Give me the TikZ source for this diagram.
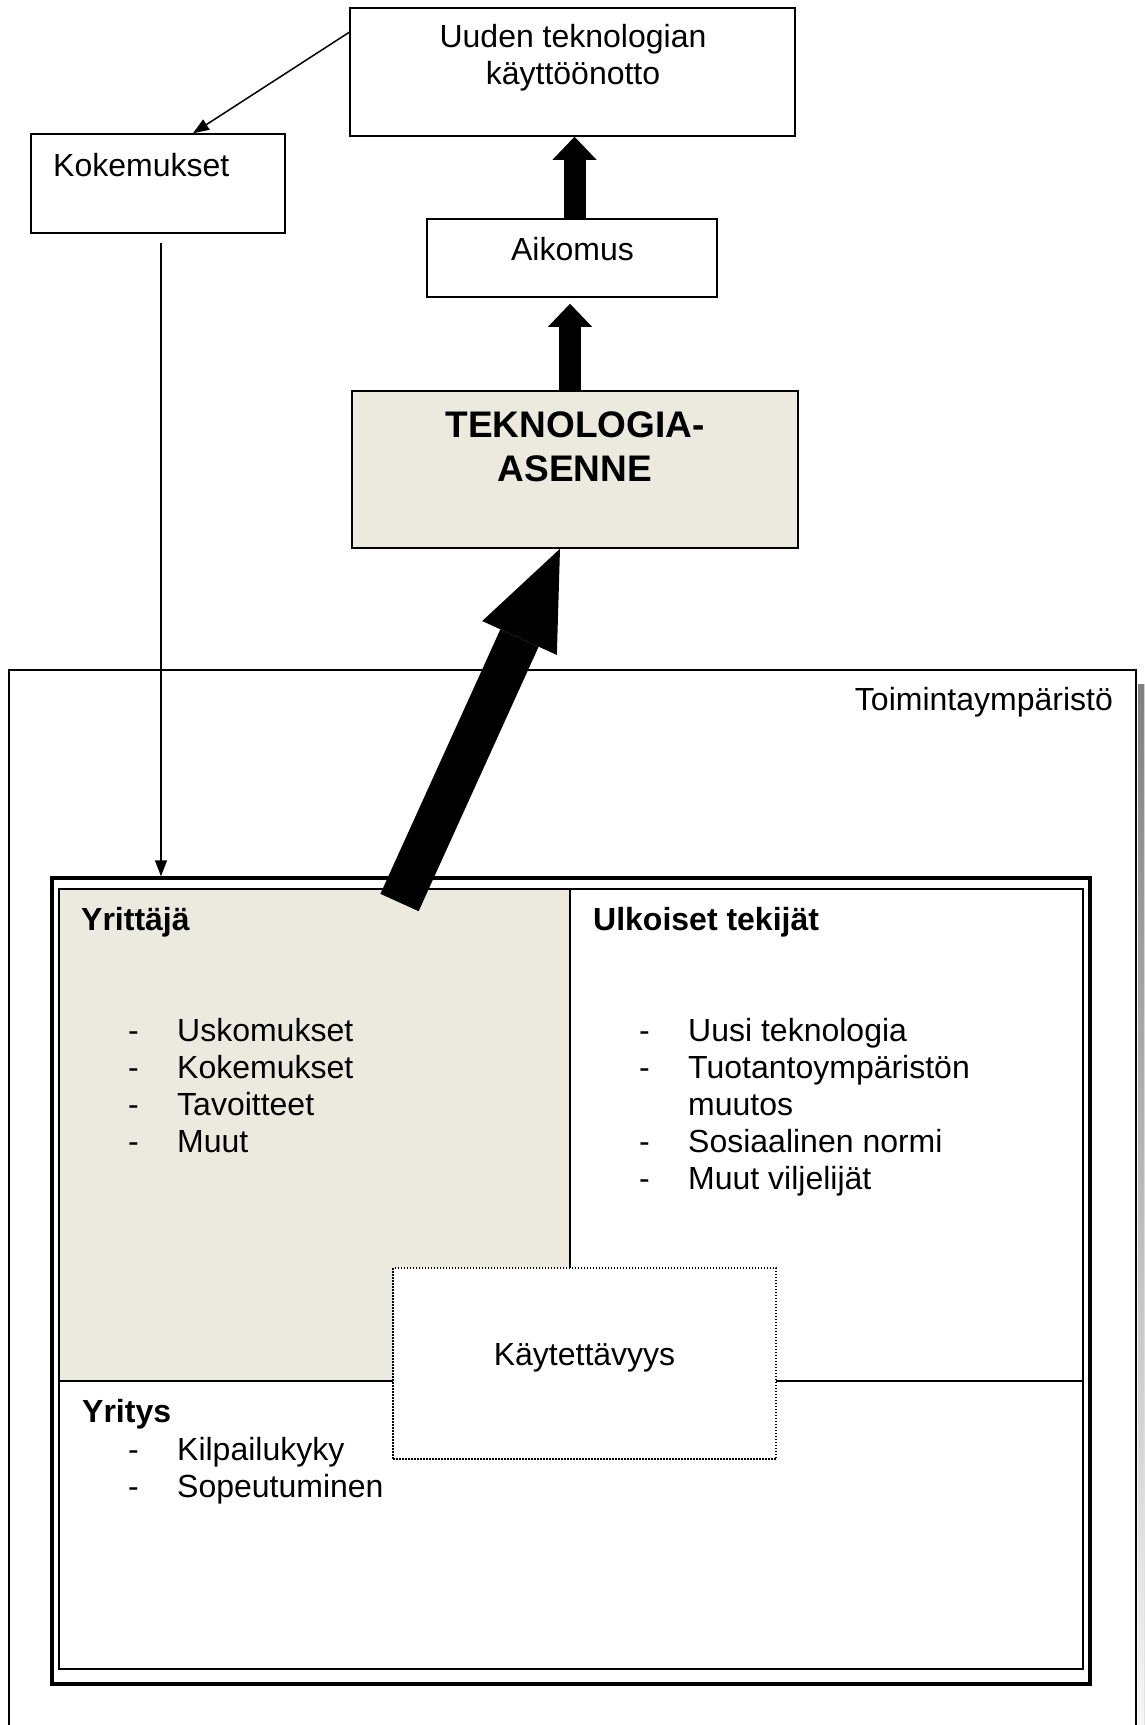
\documentclass[tikz,border=0pt]{standalone}
\usepackage{fontspec}
\setmainfont{Liberation Sans}
\usetikzlibrary{arrows.meta}
\definecolor{paper}{RGB}{236,233,223}
\definecolor{shade}{RGB}{192,192,192}
\tikzset{
  every picture/.style={line join=miter},
  box/.style={draw, line width=1.5pt, fill=white, inner sep=0pt},
  txt/.style={inner sep=0pt, font=\fontsize{32}{37}\selectfont},
  head/.style={inner sep=0pt, font=\fontsize{32}{37}\selectfont\bfseries},
  blockarrow/.style={line width=22pt, -{Triangle[length=23pt, width=44pt, line width=0pt]}},
  bigarrow/.style={line width=42pt, -{Triangle[length=98pt, width=82pt, line width=0pt]}},
  thinarrow/.style={line width=1.5pt, -{Triangle[length=16pt, width=12pt]}},
}
\newcommand\dashlist[1]{\begin{tabular}[t]{@{}p{49pt}@{}l@{}}#1\end{tabular}}

\begin{document}
\begin{tikzpicture}[x=1pt,y=-1pt]
\useasboundingbox (0,0) rectangle (1144,1725);
\clip (0,0) rectangle (1144,1725);
% toimintaympäristö
\fill[shade] (1138,684) rectangle (1170,1800);
\draw[line width=1.5pt, fill=white] (9,670) rectangle (1136,1800);
\node[txt, anchor=base east] (env) at (1113,710) {Toimintaympäristö};
% inner double frame
\node[draw, line width=3.5pt, inner sep=0pt, minimum width=1038pt, minimum height=806pt] (frame) at (571,1281) {};
\fill[paper] (59,889) rectangle (570,1381);
\node[draw, line width=1.5pt, inner sep=0pt, minimum width=1024pt, minimum height=780pt] (inner) at (571,1279) {};
\draw[line width=1.5pt] (570,889) -- (570,1381)
  (59,1381) -- (1083,1381);
\node[box, dash pattern=on 1.5pt off 1.5pt, minimum width=383pt, minimum height=191pt] (use) at (584.5,1363.5) {};
\node[txt, anchor=base] at (584.5,1365) {Käytettävyys};
% panels
\node[head, anchor=base west] (yrittaja) at (81,930) {Yrittäjä};
\node[txt, anchor=base west] at (128,1041) {\dashlist{- & Uskomukset\\ - & Kokemukset\\ - & Tavoitteet\\ - & Muut}};
\node[head, anchor=base west] (ulkoiset) at (593,930) {Ulkoiset tekijät};
\node[txt, anchor=base west] at (639,1041) {\dashlist{- & Uusi teknologia\\ - & Tuotantoympäristön\\ & muutos\\ - & Sosiaalinen normi\\ - & Muut viljelijät}};
\node[head, anchor=base west] (yritys) at (82,1422) {Yritys};
\node[txt, anchor=base west] at (128,1460) {\dashlist{- & Kilpailukyky\\ - & Sopeutuminen}};
% upper boxes
\node[box, minimum width=445pt, minimum height=128pt] (adopt) at (572.5,72) {};
\node[txt, anchor=base] at (573,47) {\begin{tabular}[t]{@{}c@{}}Uuden teknologian\\käyttöönotto\end{tabular}};
\node[box, minimum width=254pt, minimum height=99pt] (koke) at (158,183.5) {};
\node[txt, anchor=base west] at (53,176) {Kokemukset};
\node[box, minimum width=290pt, minimum height=78pt] (aikomus) at (572,258) {};
\node[txt, anchor=base] at (572.5,260) {Aikomus};
\node[box, fill=paper, minimum width=446pt, minimum height=157pt] (asenne) at (575,469.5) {};
\node[anchor=base, inner sep=0pt, font=\fontsize{37}{44}\selectfont\bfseries] at (575,437) {\begin{tabular}[t]{@{}c@{}}TEKNOLOGIA-\\ASENNE\end{tabular}};
% connectors
\draw[blockarrow] ([xshift=2.5pt]aikomus.north) -- ([xshift=2.5pt]aikomus.north |- adopt.south);
\draw[blockarrow] ([xshift=-5pt]asenne.north) -- ([xshift=-2pt,yshift=-6pt]aikomus.south);
\draw[thinarrow] ([yshift=-25pt]adopt.north west) -- ([xshift=35pt]koke.north);
\draw[thinarrow] ([xshift=3pt,yshift=-9pt]koke.south) -- ([xshift=3pt]koke.south |- frame.north);
\coordinate (tail) at (399.5,902.5);
\draw[bigarrow] (tail) -- ([xshift=-15pt]asenne.south);
\end{tikzpicture}
\end{document}
